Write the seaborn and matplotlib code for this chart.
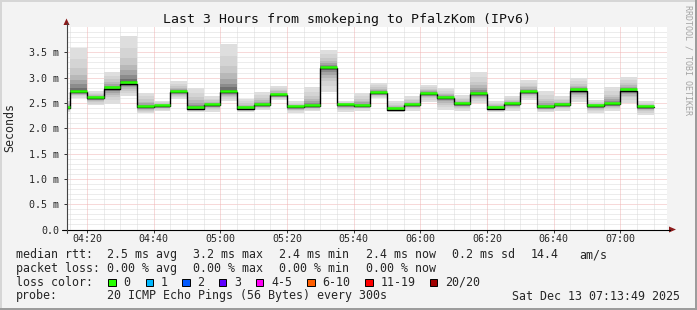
import numpy as np
import pandas as pd
import matplotlib
matplotlib.use("Agg")
import matplotlib.pyplot as plt
import matplotlib.transforms as mtransforms
from matplotlib.patches import Rectangle, Polygon
from matplotlib.lines import Line2D
import seaborn as sns

# ---------------- data ----------------
bin_starts = pd.date_range("2025-12-13 04:10", periods=36, freq="5min")
window_start = pd.Timestamp("2025-12-13 04:13:49")
window_end = pd.Timestamp("2025-12-13 07:13:49")

median_ms = [2.40, 2.71, 2.59, 2.78, 2.88, 2.41, 2.43, 2.71, 2.39, 2.45,
             2.71, 2.39, 2.45, 2.65, 2.41, 2.43, 3.19, 2.46, 2.44, 2.69,
             2.37, 2.45, 2.68, 2.60, 2.47, 2.67, 2.39, 2.47, 2.71, 2.41,
             2.46, 2.74, 2.43, 2.47, 2.74, 2.41]
smoke_max = [2.53, 3.58, 2.74, 3.12, 3.82, 2.70, 2.54, 2.94, 2.79, 2.63,
             3.66, 2.58, 2.72, 2.84, 2.53, 2.82, 3.55, 2.54, 2.70, 2.90,
             2.53, 2.63, 2.85, 2.79, 2.65, 3.12, 2.54, 2.63, 2.95, 2.73,
             2.63, 3.00, 2.56, 2.82, 3.02, 2.53]
smoke_min = [2.33, 2.60, 2.45, 2.48, 2.63, 2.30, 2.35, 2.58, 2.32, 2.33,
             2.53, 2.32, 2.36, 2.56, 2.31, 2.35, 2.72, 2.33, 2.35, 2.60,
             2.32, 2.35, 2.52, 2.36, 2.35, 2.49, 2.32, 2.35, 2.56, 2.32,
             2.35, 2.52, 2.30, 2.35, 2.50, 2.27]

y_ticks = [0.0, 0.5, 1.0, 1.5, 2.0, 2.5, 3.0, 3.5]
y_tick_labels = ["0.0", "0.5 m", "1.0 m", "1.5 m", "2.0 m", "2.5 m", "3.0 m", "3.5 m"]
x_tick_labels = ["04:20", "04:40", "05:00", "05:20", "05:40", "06:00", "06:20", "06:40", "07:00"]

title = "Last 3 Hours from smokeping to PfalzKom (IPv6)"
rtt_stats = ["2.5 ms avg", "3.2 ms max", "2.4 ms min", "2.4 ms now", "0.2 ms sd", "14.4", "am/s"]
loss_stats = ["0.00 % avg", "0.00 % max", "0.00 % min", "0.00 % now"]
loss_labels = ["0", "1", "2", "3", "4-5", "6-10", "11-19", "20/20"]
loss_colors = ["#26ff00", "#00b8ff", "#0059ff", "#5e00ff", "#ff00f5", "#ff5e00", "#ff0000", "#a00000"]
probe_text = "20 ICMP Echo Pings (56 Bytes) every 300s"
stamp = "Sat Dec 13 07:13:49 2025"

# ---------------- helpers ----------------
def minutes(ts):
    return ts.hour * 60 + ts.minute + ts.second / 60.0

W, H = 697, 310
def fx(x):
    return x / W
def fy(y):
    return 1 - y / H

sns.set_theme(style="white")
plt.rcParams["font.family"] = ["DejaVu Sans Mono"]

fig = plt.figure(figsize=(W / 100, H / 100), dpi=100, facecolor="#f3f3f3")
ax = fig.add_axes([fx(66.5), fy(229.5), 600 / W, 202.5 / H])
ax.set_facecolor("white")

x0, x1 = minutes(window_start), minutes(window_end)
edges = np.array([minutes(t) for t in bin_starts] + [minutes(bin_starts[-1]) + 5])
med = np.array(median_ms)
smin = np.array(smoke_min)
smax = np.array(smoke_max)

ax.set_xlim(x0, x1)
ax.set_ylim(0, 4.0)

# grid
dot = dict(lw=0.72, dashes=(1, 1), zorder=0.5)
for yv in np.arange(1, 40) / 10:
    major = abs(yv * 2 - round(yv * 2)) < 1e-6
    ax.axhline(yv, color="#f0b4b4" if major else "#dadada", **dot)
m = int(np.ceil(x0 / 5) * 5)
while m <= x1:
    ax.axvline(m, color="#f0b4b4" if m % 20 == 0 else "#dadada", **dot)
    m += 5

# smoke (graded shading from outer extremes to the median)
layers = [(1.0, "#dedede"), (0.75, "#d4d4d4"), (0.55, "#c8c8c8"), (0.4, "#b8b8b8"),
          (0.28, "#a4a4a4"), (0.18, "#8c8c8c"), (0.1, "#707070"), (0.05, "#555555")]
for frac, col in layers:
    lo = med - frac * (med - smin)
    hi = med + frac * (smax - med)
    ax.stairs(hi, edges, baseline=lo, fill=True, color=col, lw=0, zorder=1)

# median step line (black) + green loss-colour segments
sns.lineplot(x=edges, y=np.append(med, med[-1]), drawstyle="steps-post",
             color="black", lw=1.0, ax=ax, zorder=3)
up = ax.transData + mtransforms.ScaledTranslation(0, 1.3 / 100, fig.dpi_scale_trans)
ax.hlines(med, edges[:-1], edges[1:], colors=loss_colors[0], lw=1.8, transform=up, zorder=4)

ax.set_xlabel("")
ax.set_ylabel("")
for s in ax.spines.values():
    s.set_visible(False)

# ticks
x_tick_pos = [minutes(pd.Timestamp("2025-12-13 " + s)) for s in x_tick_labels]
ax.set_xticks(x_tick_pos)
ax.set_xticklabels(x_tick_labels, fontsize=7.2)
ax.set_yticks(y_ticks)
ax.set_yticklabels(y_tick_labels, fontsize=7.2)
ax.tick_params(axis="both", which="major", length=2.2, width=0.7, color="#333333",
               direction="out", bottom=True, left=True)
ax.tick_params(axis="x", pad=1.2)
ax.tick_params(axis="y", pad=3.0)
ax.grid(False)

# axis lines with arrows
fig.add_artist(Line2D([fx(62), fx(670)], [fy(229.5), fy(229.5)], color="black", lw=0.8))
fig.add_artist(Line2D([fx(66.5), fx(66.5)], [fy(233), fy(23)], color="#444444", lw=0.8))
fig.add_artist(Polygon([[fx(669), fy(226.5)], [fx(676), fy(229.5)], [fx(669), fy(232.5)]],
                       closed=True, color="#8b1a1a", lw=0))
fig.add_artist(Polygon([[fx(63.5), fy(25)], [fx(66.5), fy(18.5)], [fx(69.5), fy(25)]],
                       closed=True, color="#8b1a1a", lw=0))

# texts
fig.text(fx(347), fy(19.3), title, ha="center", va="center", fontsize=9.5, color="#111111")
fig.text(fx(10), fy(127.6), "Seconds", rotation=90, ha="center", va="center", fontsize=8.4)
fig.text(fx(688), fy(5), "RRDTOOL / TOBI OETIKER", rotation=270, ha="center", va="top",
         fontsize=6, color="#a4a4a4")

fs = 8.4
row_y = [254.7, 268.3, 282.3, 296.0]
fig.text(fx(16), fy(row_y[0]), "median rtt:", va="center", fontsize=fs)
for xpos, s in zip([107.3, 193.3, 279.3, 365.7, 451.7, 530.7, 579.3], rtt_stats):
    fig.text(fx(xpos), fy(row_y[0]), s, va="center", fontsize=fs)
fig.text(fx(16), fy(row_y[1]), "packet loss:", va="center", fontsize=fs)
for xpos, s in zip([107.3, 193.3, 279.3, 365.7], loss_stats):
    fig.text(fx(xpos), fy(row_y[1]), s, va="center", fontsize=fs)
fig.text(fx(16), fy(row_y[2]), "loss color:", va="center", fontsize=fs)
box_x = [108.3, 145.7, 182.3, 219.0, 256.0, 307.3, 365.3, 430.0]
for bx, lab, col in zip(box_x, loss_labels, loss_colors):
    fig.add_artist(Rectangle((fx(bx), fy(286.3)), 7.3 / W, 7.3 / H, facecolor=col,
                             edgecolor="black", lw=0.7))
    fig.text(fx(bx + 15), fy(row_y[2]), lab, va="center", fontsize=fs)
fig.text(fx(16), fy(row_y[3]), "probe:", va="center", fontsize=fs)
fig.text(fx(107.3), fy(row_y[3]), probe_text, va="center", fontsize=fs)
fig.text(fx(680), fy(row_y[3]), stamp, va="center", ha="right", fontsize=fs)

# 3D frame
fig.add_artist(Rectangle((0, fy(2)), 1, 2 / H, color="#d6d6d6", lw=0))
fig.add_artist(Rectangle((0, 0), 2 / W, 1, color="#d6d6d6", lw=0))
fig.add_artist(Rectangle((0, 0), 1, 2.5 / H, color="#9c9c9c", lw=0))
fig.add_artist(Rectangle((fx(695), 0), 2 / W, 1, color="#9c9c9c", lw=0))

fig.savefig("out.png", dpi=100, facecolor=fig.get_facecolor())
